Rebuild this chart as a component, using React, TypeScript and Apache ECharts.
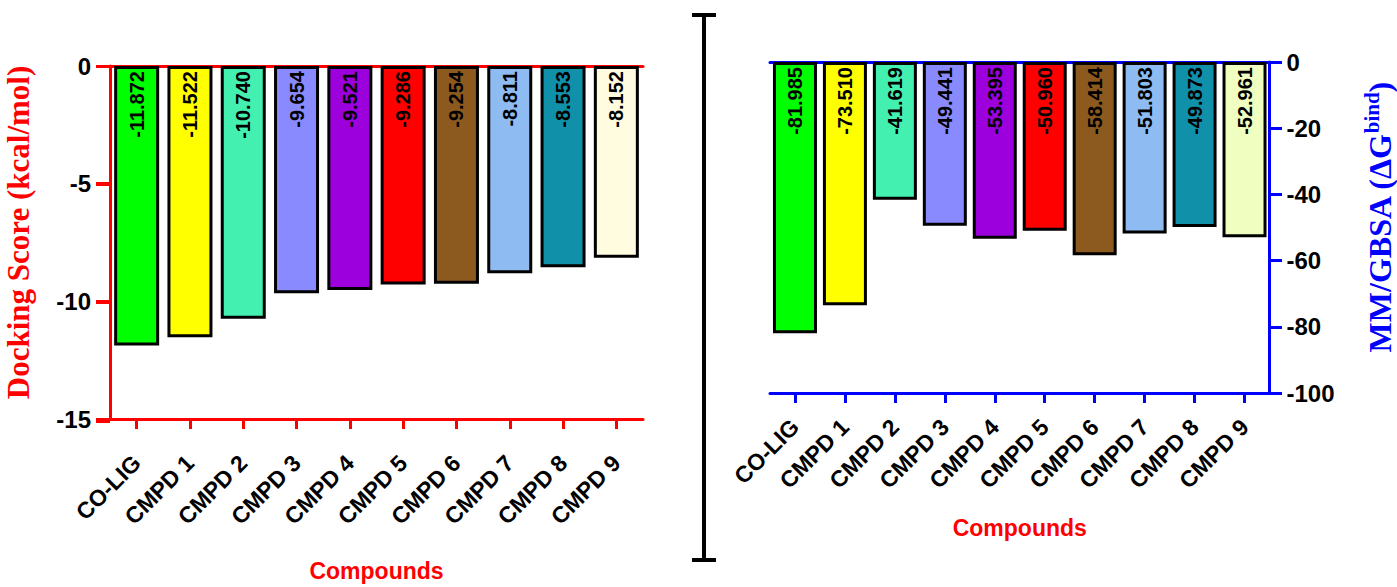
import React, { useEffect, useRef } from "react";
import * as echarts from "echarts";

const categories = ["CO-LIG", "CMPD 1", "CMPD 2", "CMPD 3", "CMPD 4", "CMPD 5", "CMPD 6", "CMPD 7", "CMPD 8", "CMPD 9"];
const dockingScores = [-11.872, -11.522, -10.74, -9.654, -9.521, -9.286, -9.254, -8.811, -8.553, -8.152];
const mmgbsaValues = [-81.985, -73.51, -41.619, -49.441, -53.395, -50.96, -58.414, -51.803, -49.873, -52.961];
const leftColors = ["#00ff00", "#ffff00", "#44f0b0", "#8a8aff", "#9b00dd", "#ff0000", "#8c5a1e", "#8ebcf2", "#1190aa", "#fffce0"];
const rightColors = ["#00ff00", "#ffff00", "#44f0b0", "#8a8aff", "#9b00dd", "#ff0000", "#8c5a1e", "#8ebcf2", "#1190aa", "#f0ffc0"];
const leftTicks = [0, -5, -10, -15];
const rightTicks = [0, -20, -40, -60, -80, -100];

const SANS = "'Liberation Sans', Arial, sans-serif";
const SERIF = "'Liberation Serif', 'Times New Roman', serif";

export default function App() {
  const ref = useRef<HTMLDivElement>(null);
  useEffect(() => {
    if (!ref.current) return;
    const chart = echarts.init(ref.current, undefined, { renderer: "svg" });
    const red = "#ff0000";
    const blue = "#0000ff";
    const xLabel = { rotate: 45, fontSize: 23, fontWeight: "bold", color: "#000", fontFamily: SANS, interval: 0 };
    const yLabel = { fontSize: 24, fontWeight: "bold", color: "#000", fontFamily: SANS };
    const barLabel = {
      show: true,
      position: "insideTop",
      rotate: 90,
      align: "right",
      verticalAlign: "middle",
      distance: 5,
      fontSize: 20,
      fontWeight: "bold",
      color: "#000",
      fontFamily: SANS,
      formatter: (p: any) => Number(p.value).toFixed(3),
    };
    const lMin = leftTicks[leftTicks.length - 1];
    const lMax = leftTicks[0];
    const rMin = rightTicks[rightTicks.length - 1];
    const rMax = rightTicks[0];
    const hiddenX = (g: number) => ({ type: "value", gridIndex: g, show: false, min: 0, max: 1 });
    const tickY = (g: number, min: number, max: number, interval: number, color: string) => ({
      type: "value", gridIndex: g, min, max, interval,
      axisLine: { show: false }, axisTick: { show: false }, axisLabel: { show: false },
      splitLine: { show: true, lineStyle: { color, width: 3, type: "solid" } },
    });
    chart.setOption({
      animation: false,
      backgroundColor: "#ffffff",
      grid: [
        { left: 110, top: 66, width: 533, height: 355 },
        { left: 770, top: 62, width: 502, height: 331 },
        { left: 96, top: 66, width: 14, height: 355 },
        { left: 1272, top: 62, width: 10, height: 331 },
      ],
      xAxis: [
        {
          type: "category", gridIndex: 0, data: categories, position: "bottom",
          axisLine: { onZero: false, lineStyle: { color: red, width: 3 } },
          axisTick: { show: true, inside: false, alignWithLabel: true, length: 10, lineStyle: { color: red, width: 3 } },
          axisLabel: { ...xLabel, margin: 40 },
          name: "Compounds", nameLocation: "middle", nameGap: 140,
          nameTextStyle: { color: red, fontSize: 23, fontWeight: "bold", fontFamily: SANS },
        },
        {
          type: "category", gridIndex: 0, data: categories, position: "top",
          axisLine: { onZero: false, lineStyle: { color: red, width: 3 } },
          axisTick: { show: false }, axisLabel: { show: false },
        },
        {
          type: "category", gridIndex: 1, data: categories, position: "bottom",
          axisLine: { onZero: false, lineStyle: { color: blue, width: 3 } },
          axisTick: { show: true, inside: false, alignWithLabel: true, length: 10, lineStyle: { color: blue, width: 3 } },
          axisLabel: { ...xLabel, margin: 30 },
          name: "Compounds", nameLocation: "middle", nameGap: 123,
          nameTextStyle: { color: red, fontSize: 23, fontWeight: "bold", fontFamily: SANS },
        },
        {
          type: "category", gridIndex: 1, data: categories, position: "top",
          axisLine: { onZero: false, lineStyle: { color: blue, width: 3 } },
          axisTick: { show: false }, axisLabel: { show: false },
        },
        hiddenX(2),
        hiddenX(3),
      ],
      yAxis: [
        {
          type: "value", gridIndex: 0, min: lMin, max: lMax, interval: 5,
          axisLine: { show: true, lineStyle: { color: red, width: 3 } },
          axisTick: { show: true, inside: false, length: 14, lineStyle: { color: red, width: 3 } },
          splitLine: { show: false },
          axisLabel: { ...yLabel, margin: 19 },
          name: "Docking Score (kcal/mol)", nameLocation: "middle", nameRotate: 90, nameGap: 76,
          nameTextStyle: { color: red, fontSize: 31, fontFamily: SERIF, fontWeight: "bold", padding: [0, 0, 0, 20] },
        },
        {
          type: "value", gridIndex: 1, position: "right", min: rMin, max: rMax, interval: 20,
          axisLine: { show: true, lineStyle: { color: blue, width: 3 } },
          axisTick: { show: true, inside: false, length: 10, lineStyle: { color: blue, width: 3 } },
          splitLine: { show: false },
          axisLabel: { ...yLabel, margin: 17 },
          name: "{t|MM/GBSA (ΔG}{s|bind}{t|)}", nameLocation: "middle", nameRotate: 90, nameGap: 92,
          nameTextStyle: {
            color: blue,
            padding: [0, 0, 0, 20],
            rich: {
              t: { fontSize: 32, fontFamily: SERIF, fontWeight: "bold", color: blue },
              s: { fontSize: 21, fontFamily: SERIF, fontWeight: "bold", color: blue, padding: [0, 0, 16, 0] },
            },
          },
        },
        tickY(2, lMin, lMax, 5, red),
        tickY(3, rMin, rMax, 20, blue),
      ],
      series: [
        {
          type: "bar", xAxisIndex: 0, yAxisIndex: 0, barWidth: 45,
          data: dockingScores.map((v, i) => ({ value: v, itemStyle: { color: leftColors[i] } })),
          itemStyle: { borderColor: "#000", borderWidth: 3 },
          label: barLabel,
        },
        {
          type: "bar", xAxisIndex: 2, yAxisIndex: 1, barWidth: 44,
          data: mmgbsaValues.map((v, i) => ({ value: v, itemStyle: { color: rightColors[i] } })),
          itemStyle: { borderColor: "#000", borderWidth: 3 },
          label: barLabel,
        },
      ],
      graphic: [
        { type: "line", shape: { x1: 704, y1: 15, x2: 704, y2: 560 }, style: { stroke: "#000", lineWidth: 4 } },
        { type: "line", shape: { x1: 692, y1: 15, x2: 716, y2: 15 }, style: { stroke: "#000", lineWidth: 4 } },
        { type: "line", shape: { x1: 692, y1: 560, x2: 716, y2: 560 }, style: { stroke: "#000", lineWidth: 4 } },
      ],
    });
    return () => chart.dispose();
  }, []);
  return <div ref={ref} style={{ position: "fixed", left: 0, top: 0, width: 1397, height: 587 }} />;
}
